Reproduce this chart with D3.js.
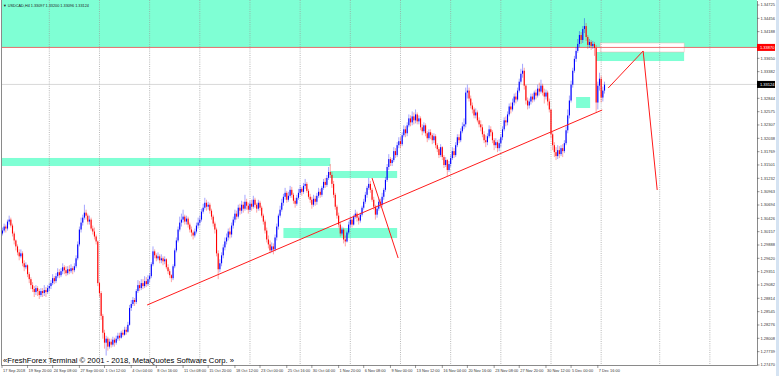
<!DOCTYPE html>
<html>
<head>
<meta charset="utf-8">
<style>
  body { margin: 0; background: #fff; }
  svg { display: block; font-family: "Liberation Sans", Arial, sans-serif; }
</style>
</head>
<body>
<script src="https://d3js.org/d3.v7.min.js"></script>
<script>
// USDCAD H4, 17 Sep 2018 .. 10 Dec 2018
var title = "\u25BC USDCAD,H4  1.33097 1.33200 1.33096 1.33124";
var firstOpen = 1.3024;

var closes = [
  1.3020, 1.3012, 1.3018, 1.3026, 1.3022, 1.3036, 1.3040, 1.3028, 1.3012, 1.2998,
  1.2986, 1.2974, 1.2966, 1.2972, 1.2952, 1.2944, 1.2948, 1.2930, 1.2920, 1.2908,
  1.2900, 1.2894, 1.2902, 1.2896, 1.2888, 1.2896, 1.2892, 1.2898, 1.2894, 1.2902,
  1.2906, 1.2912, 1.2922, 1.2916, 1.2926, 1.2934, 1.2928, 1.2936, 1.2944, 1.2938,
  1.2932, 1.2940, 1.2936, 1.2942, 1.2938, 1.2946, 1.2962, 1.2990, 1.3020, 1.3034,
  1.3044, 1.3054, 1.3048, 1.3036, 1.3040, 1.3022, 1.3016, 1.3006, 1.2996, 1.2912,
  1.2892, 1.2846, 1.2812, 1.2792, 1.2800, 1.2784, 1.2794, 1.2788, 1.2798, 1.2792,
  1.2800, 1.2806, 1.2802, 1.2812, 1.2808, 1.2818, 1.2814, 1.2828, 1.2862, 1.2870,
  1.2878, 1.2874, 1.2896, 1.2908, 1.2902, 1.2912, 1.2906, 1.2916, 1.2910, 1.2920,
  1.2926, 1.2950, 1.2976, 1.2968, 1.2962, 1.2966, 1.2958, 1.2962, 1.2956, 1.2960,
  1.2944, 1.2936, 1.2928, 1.2922, 1.2946, 1.2978, 1.2998, 1.3020, 1.3034, 1.3040,
  1.3046, 1.3036, 1.3042, 1.3030, 1.3020, 1.3014, 1.3008, 1.3016, 1.3028, 1.3034,
  1.3040, 1.3056, 1.3064, 1.3074, 1.3066, 1.3070, 1.3058, 1.3046, 1.3032, 1.3020,
  1.2972, 1.2940, 1.2952, 1.2968, 1.2984, 1.2996, 1.3004, 1.3016, 1.3010, 1.3028,
  1.3040, 1.3052, 1.3046, 1.3064, 1.3058, 1.3070, 1.3062, 1.3076, 1.3068, 1.3060,
  1.3072, 1.3066, 1.3080, 1.3070, 1.3062, 1.3074, 1.3064, 1.3048, 1.3036, 1.3018,
  1.3000, 1.2990, 1.2978, 1.2986, 1.2980, 1.3004, 1.3026, 1.3048, 1.3060, 1.3074,
  1.3086, 1.3094, 1.3080, 1.3088, 1.3100, 1.3090, 1.3078, 1.3072, 1.3084, 1.3094,
  1.3102, 1.3096, 1.3108, 1.3112, 1.3098, 1.3086, 1.3080, 1.3070, 1.3082, 1.3076,
  1.3088, 1.3096, 1.3090, 1.3104, 1.3116, 1.3110, 1.3124, 1.3136, 1.3130, 1.3112,
  1.3090, 1.3066, 1.3048, 1.3030, 1.3012, 1.3020, 1.3000, 1.2996, 1.3014, 1.3030,
  1.3040, 1.3030, 1.3046, 1.3052, 1.3044, 1.3038, 1.3050, 1.3064, 1.3076, 1.3090,
  1.3104, 1.3112, 1.3100, 1.3080, 1.3066, 1.3050, 1.3062, 1.3076, 1.3070, 1.3086,
  1.3100, 1.3120, 1.3146, 1.3162, 1.3154, 1.3160, 1.3178, 1.3170, 1.3190, 1.3198,
  1.3192, 1.3210, 1.3222, 1.3214, 1.3230, 1.3244, 1.3236, 1.3248, 1.3240, 1.3252,
  1.3238, 1.3244, 1.3226, 1.3218, 1.3230, 1.3214, 1.3204, 1.3216, 1.3210, 1.3200,
  1.3208, 1.3190, 1.3182, 1.3170, 1.3186, 1.3166, 1.3150, 1.3160, 1.3140, 1.3152,
  1.3164, 1.3178, 1.3170, 1.3190, 1.3206, 1.3200, 1.3218, 1.3228, 1.3232, 1.3296,
  1.3300, 1.3284, 1.3270, 1.3262, 1.3250, 1.3256, 1.3240, 1.3232, 1.3226, 1.3212,
  1.3200, 1.3196, 1.3208, 1.3222, 1.3216, 1.3200, 1.3190, 1.3196, 1.3184, 1.3194,
  1.3206, 1.3222, 1.3240, 1.3236, 1.3252, 1.3268, 1.3262, 1.3276, 1.3288, 1.3282,
  1.3300, 1.3318, 1.3334, 1.3340, 1.3310, 1.3280, 1.3270, 1.3278, 1.3288, 1.3282,
  1.3296, 1.3290, 1.3304, 1.3298, 1.3310, 1.3296, 1.3288, 1.3296, 1.3278, 1.3262,
  1.3212, 1.3190, 1.3176, 1.3168, 1.3180, 1.3172, 1.3184, 1.3178, 1.3194, 1.3220,
  1.3250, 1.3280, 1.3312, 1.3340, 1.3364, 1.3380, 1.3394, 1.3412, 1.3402, 1.3424,
  1.3430, 1.3408, 1.3392, 1.3398, 1.3390, 1.3394, 1.3386, 1.3276, 1.3310, 1.3324,
  1.3286, 1.3300, 1.3312
];

var highs = [
  1.3030, 1.3026, 1.3024, 1.3032, 1.3030, 1.3040, 1.3048, 1.3044, 1.3032, 1.3016,
  1.3000, 1.2990, 1.2980, 1.2980, 1.2976, 1.2958, 1.2954, 1.2950, 1.2934, 1.2924,
  1.2914, 1.2906, 1.2908, 1.2906, 1.2900, 1.2902, 1.2902, 1.2908, 1.2904, 1.2908,
  1.2912, 1.2918, 1.2930, 1.2926, 1.2932, 1.2942, 1.2940, 1.2942, 1.2952, 1.2948,
  1.2946, 1.2946, 1.2948, 1.2950, 1.2946, 1.2952, 1.2968, 1.2996, 1.3026, 1.3044,
  1.3050, 1.3070, 1.3060, 1.3052, 1.3048, 1.3044, 1.3028, 1.3024, 1.3010, 1.2998,
  1.2914, 1.2896, 1.2850, 1.2818, 1.2806, 1.2804, 1.2800, 1.2800, 1.2804, 1.2802,
  1.2806, 1.2812, 1.2812, 1.2816, 1.2818, 1.2824, 1.2824, 1.2834, 1.2868, 1.2878,
  1.2884, 1.2882, 1.2900, 1.2918, 1.2916, 1.2920, 1.2920, 1.2926, 1.2924, 1.2928,
  1.2932, 1.2954, 1.2986, 1.2980, 1.2972, 1.2974, 1.2970, 1.2970, 1.2966, 1.2966,
  1.2962, 1.2950, 1.2940, 1.2930, 1.2950, 1.2982, 1.3004, 1.3026, 1.3046, 1.3052,
  1.3060, 1.3050, 1.3048, 1.3046, 1.3034, 1.3026, 1.3018, 1.3022, 1.3034, 1.3044,
  1.3048, 1.3062, 1.3072, 1.3084, 1.3080, 1.3076, 1.3074, 1.3062, 1.3050, 1.3036,
  1.3024, 1.2978, 1.2960, 1.2974, 1.2990, 1.3004, 1.3012, 1.3022, 1.3024, 1.3034,
  1.3046, 1.3060, 1.3058, 1.3070, 1.3072, 1.3078, 1.3076, 1.3090, 1.3082, 1.3074,
  1.3078, 1.3080, 1.3088, 1.3084, 1.3074, 1.3080, 1.3078, 1.3068, 1.3052, 1.3040,
  1.3024, 1.3008, 1.2998, 1.2994, 1.2992, 1.3010, 1.3032, 1.3052, 1.3068, 1.3082,
  1.3092, 1.3104, 1.3098, 1.3096, 1.3108, 1.3106, 1.3094, 1.3084, 1.3090, 1.3102,
  1.3110, 1.3106, 1.3114, 1.3122, 1.3116, 1.3102, 1.3092, 1.3086, 1.3090, 1.3088,
  1.3094, 1.3104, 1.3102, 1.3108, 1.3122, 1.3124, 1.3130, 1.3146, 1.3152, 1.3136,
  1.3118, 1.3094, 1.3070, 1.3054, 1.3036, 1.3026, 1.3024, 1.3008, 1.3018, 1.3036,
  1.3046, 1.3044, 1.3050, 1.3060, 1.3056, 1.3048, 1.3054, 1.3068, 1.3082, 1.3096,
  1.3108, 1.3124, 1.3118, 1.3104, 1.3086, 1.3070, 1.3068, 1.3082, 1.3082, 1.3094,
  1.3104, 1.3126, 1.3152, 1.3172, 1.3166, 1.3164, 1.3186, 1.3184, 1.3196, 1.3206,
  1.3206, 1.3216, 1.3230, 1.3228, 1.3236, 1.3252, 1.3250, 1.3258, 1.3256, 1.3262,
  1.3256, 1.3250, 1.3248, 1.3232, 1.3236, 1.3234, 1.3218, 1.3222, 1.3222, 1.3214,
  1.3214, 1.3212, 1.3194, 1.3186, 1.3192, 1.3188, 1.3170, 1.3166, 1.3162, 1.3158,
  1.3170, 1.3186, 1.3184, 1.3196, 1.3212, 1.3212, 1.3224, 1.3236, 1.3244, 1.3306,
  1.3312, 1.3306, 1.3290, 1.3276, 1.3266, 1.3264, 1.3260, 1.3246, 1.3240, 1.3232,
  1.3218, 1.3210, 1.3214, 1.3230, 1.3228, 1.3220, 1.3204, 1.3204, 1.3200, 1.3202,
  1.3212, 1.3228, 1.3246, 1.3248, 1.3258, 1.3274, 1.3276, 1.3284, 1.3294, 1.3296,
  1.3306, 1.3324, 1.3344, 1.3354, 1.3346, 1.3312, 1.3286, 1.3284, 1.3294, 1.3294,
  1.3300, 1.3302, 1.3312, 1.3316, 1.3322, 1.3314, 1.3304, 1.3302, 1.3300, 1.3284,
  1.3240, 1.3216, 1.3196, 1.3186, 1.3190, 1.3188, 1.3190, 1.3192, 1.3200, 1.3228,
  1.3262, 1.3290, 1.3320, 1.3346, 1.3370, 1.3388, 1.3404, 1.3420, 1.3418, 1.3430,
  1.3446, 1.3436, 1.3412, 1.3404, 1.3402, 1.3400, 1.3398, 1.3392, 1.3318, 1.3336,
  1.3330, 1.3308, 1.3318
];

var lows = [
  1.3012, 1.3004, 1.3008, 1.3014, 1.3014, 1.3018, 1.3030, 1.3024, 1.3006, 1.2990,
  1.2978, 1.2968, 1.2958, 1.2962, 1.2946, 1.2936, 1.2940, 1.2924, 1.2912, 1.2900,
  1.2894, 1.2884, 1.2888, 1.2886, 1.2880, 1.2884, 1.2884, 1.2886, 1.2884, 1.2890,
  1.2896, 1.2900, 1.2908, 1.2910, 1.2912, 1.2922, 1.2922, 1.2924, 1.2930, 1.2930,
  1.2926, 1.2928, 1.2930, 1.2932, 1.2930, 1.2934, 1.2942, 1.2958, 1.2986, 1.3014,
  1.3028, 1.3040, 1.3040, 1.3030, 1.3030, 1.3018, 1.3010, 1.3000, 1.2990, 1.2906,
  1.2884, 1.2838, 1.2800, 1.2780, 1.2766, 1.2776, 1.2780, 1.2782, 1.2784, 1.2784,
  1.2788, 1.2796, 1.2796, 1.2800, 1.2804, 1.2806, 1.2808, 1.2812, 1.2826, 1.2856,
  1.2866, 1.2866, 1.2870, 1.2892, 1.2896, 1.2898, 1.2900, 1.2902, 1.2904, 1.2906,
  1.2914, 1.2922, 1.2946, 1.2962, 1.2956, 1.2958, 1.2952, 1.2952, 1.2948, 1.2950,
  1.2940, 1.2930, 1.2922, 1.2914, 1.2918, 1.2942, 1.2974, 1.2994, 1.3016, 1.3026,
  1.3034, 1.3030, 1.3030, 1.3024, 1.3014, 1.3006, 1.3000, 1.3004, 1.3012, 1.3022,
  1.3028, 1.3036, 1.3052, 1.3060, 1.3058, 1.3060, 1.3052, 1.3040, 1.3026, 1.3012,
  1.2966, 1.2920, 1.2934, 1.2946, 1.2962, 1.2978, 1.2990, 1.2998, 1.3002, 1.3004,
  1.3022, 1.3034, 1.3040, 1.3042, 1.3050, 1.3052, 1.3054, 1.3058, 1.3060, 1.3052,
  1.3056, 1.3058, 1.3062, 1.3064, 1.3054, 1.3058, 1.3058, 1.3044, 1.3030, 1.3012,
  1.2994, 1.2982, 1.2972, 1.2974, 1.2970, 1.2976, 1.2998, 1.3020, 1.3044, 1.3056,
  1.3068, 1.3080, 1.3074, 1.3076, 1.3084, 1.3084, 1.3072, 1.3064, 1.3068, 1.3080,
  1.3090, 1.3088, 1.3092, 1.3102, 1.3094, 1.3082, 1.3074, 1.3062, 1.3066, 1.3068,
  1.3070, 1.3084, 1.3084, 1.3086, 1.3100, 1.3104, 1.3106, 1.3120, 1.3124, 1.3104,
  1.3084, 1.3060, 1.3042, 1.3024, 1.3006, 1.3008, 1.2992, 1.2986, 1.2994, 1.3010,
  1.3024, 1.3024, 1.3028, 1.3042, 1.3036, 1.3030, 1.3034, 1.3046, 1.3060, 1.3072,
  1.3084, 1.3100, 1.3094, 1.3076, 1.3060, 1.3040, 1.3044, 1.3058, 1.3064, 1.3066,
  1.3080, 1.3096, 1.3116, 1.3140, 1.3148, 1.3148, 1.3156, 1.3164, 1.3166, 1.3184,
  1.3184, 1.3188, 1.3206, 1.3206, 1.3208, 1.3226, 1.3228, 1.3230, 1.3232, 1.3234,
  1.3232, 1.3232, 1.3220, 1.3210, 1.3214, 1.3208, 1.3196, 1.3200, 1.3202, 1.3192,
  1.3194, 1.3184, 1.3176, 1.3164, 1.3166, 1.3160, 1.3144, 1.3146, 1.3128, 1.3136,
  1.3146, 1.3160, 1.3164, 1.3166, 1.3186, 1.3194, 1.3196, 1.3214, 1.3222, 1.3226,
  1.3284, 1.3278, 1.3264, 1.3254, 1.3244, 1.3244, 1.3236, 1.3226, 1.3218, 1.3206,
  1.3194, 1.3186, 1.3190, 1.3204, 1.3208, 1.3194, 1.3180, 1.3184, 1.3176, 1.3178,
  1.3186, 1.3200, 1.3218, 1.3228, 1.3230, 1.3248, 1.3254, 1.3258, 1.3270, 1.3274,
  1.3278, 1.3296, 1.3314, 1.3326, 1.3302, 1.3272, 1.3262, 1.3264, 1.3272, 1.3276,
  1.3278, 1.3282, 1.3286, 1.3290, 1.3294, 1.3290, 1.3274, 1.3282, 1.3270, 1.3256,
  1.3204, 1.3180, 1.3166, 1.3160, 1.3162, 1.3164, 1.3168, 1.3166, 1.3174, 1.3190,
  1.3214, 1.3244, 1.3276, 1.3306, 1.3336, 1.3358, 1.3376, 1.3388, 1.3394, 1.3396,
  1.3416, 1.3400, 1.3384, 1.3386, 1.3382, 1.3384, 1.3370, 1.3256, 1.3262, 1.3300,
  1.3276, 1.3278, 1.3294
];

// time axis labels and the bar each one sits on
var dateLabels = ["17 Sep 2018", "19 Sep 20:00", "24 Sep 08:00", "27 Sep 00:00", "1 Oct 12:00",
  "4 Oct 04:00", "8 Oct 16:00", "11 Oct 08:00", "15 Oct 20:00", "18 Oct 12:00", "23 Oct 00:00",
  "25 Oct 16:00", "30 Oct 04:00", "1 Nov 20:00", "6 Nov 08:00", "9 Nov 00:00", "13 Nov 12:00",
  "16 Nov 04:00", "20 Nov 16:00", "23 Nov 08:00", "27 Nov 20:00", "30 Nov 12:00", "5 Dec 00:00",
  "7 Dec 16:00"];
var dateBars = [0, 17, 32, 48, 63, 79, 94, 110, 125, 141, 156, 172, 187, 203, 218, 234, 249,
  265, 280, 296, 311, 327, 342, 358];

// price scale labels, top to bottom
var priceTicks = [1.34725, 1.34456, 1.34188, 1.33919, 1.33650, 1.33382, 1.33113, 1.32844,
  1.32575, 1.32307, 1.32038, 1.31769, 1.31501, 1.31232, 1.30963, 1.30694, 1.30426, 1.30157,
  1.29888, 1.29620, 1.29351, 1.29082, 1.28814, 1.28545, 1.28276, 1.28008, 1.27739, 1.27470];

var gridBars = [30, 60, 90, 120, 150, 180, 210, 240, 270, 300, 330, 360, 395, 425];

var levelPrice = 1.33870;   // red horizontal line
var lastPrice = 1.33124;    // current bid

// rectangles drawn on the chart: [fromBar, toBar, upperPrice, lowerPrice]
var zones = [
  [-5, 460, 1.35000, 1.33870],
  [-5, 198, 1.31642, 1.31480],
  [198, 238, 1.31380, 1.31238],
  [170, 238, 1.30231, 1.30029],
  [345, 353.4, 1.32871, 1.32649],
  [357, 409.6, 1.33778, 1.33596]
];
var whiteBoxes = [
  [359.4, 409.6, 1.33959, 1.33778]
];

// trend lines: [bar1, price1, bar2, price2]
var trendLines = [
  [88.5, 1.28679, 360.6, 1.32609],
  [223, 1.31238, 238.6, 1.29626],
  [364.2, 1.33052, 385.1, 1.33798],
  [385.1, 1.33798, 393.5, 1.30997]
];

var W = 779, H = 376;
var plot = {left: 2, right: 757, top: 0, bottom: 365};

var svg = d3.select("body").append("svg")
    .attr("width", W)
    .attr("height", H);

svg.append("rect").attr("width", W).attr("height", H).attr("fill", "#fff");
// window frame strip on the right
svg.append("rect").attr("x", 776).attr("y", 0).attr("width", 3).attr("height", H).attr("fill", "#d5e3f2");

var x = d3.scaleLinear().domain([30, 330]).range([49.3, 551]);
var y = d3.scaleLinear()
    .domain([priceTicks[priceTicks.length - 1], priceTicks[0]])
    .range([365, 5]);

svg.append("clipPath").attr("id", "clip")
  .append("rect")
    .attr("x", plot.left).attr("y", plot.top)
    .attr("width", plot.right - plot.left).attr("height", plot.bottom - plot.top);

var chart = svg.append("g").attr("clip-path", "url(#clip)");

// zones
chart.selectAll("rect.zone")
    .data(zones)
  .enter().append("rect")
    .attr("class", "zone")
    .attr("x", function(d) { return x(d[0]); })
    .attr("y", function(d) { return y(d[2]); })
    .attr("width", function(d) { return x(d[1]) - x(d[0]); })
    .attr("height", function(d) { return y(d[3]) - y(d[2]); })
    .attr("fill", "#7fffd4");

chart.selectAll("rect.wbox")
    .data(whiteBoxes)
  .enter().append("rect")
    .attr("class", "wbox")
    .attr("x", function(d) { return x(d[0]); })
    .attr("y", function(d) { return y(d[2]); })
    .attr("width", function(d) { return x(d[1]) - x(d[0]); })
    .attr("height", function(d) { return y(d[3]) - y(d[2]); })
    .attr("fill", "#fff")
    .attr("stroke", "#f2b0b0")
    .attr("stroke-width", 0.5);

// vertical grid (dotted)
chart.selectAll("line.grid")
    .data(gridBars)
  .enter().append("line")
    .attr("class", "grid")
    .attr("x1", function(d) { return x(d); })
    .attr("x2", function(d) { return x(d); })
    .attr("y1", plot.top)
    .attr("y2", plot.bottom)
    .attr("stroke", "#9a9a9a")
    .attr("stroke-width", 0.7)
    .attr("stroke-dasharray", "1,1.2");

// current price line and red level
chart.append("line")
    .attr("x1", plot.left).attr("x2", plot.right)
    .attr("y1", y(lastPrice)).attr("y2", y(lastPrice))
    .attr("stroke", "#c8c8c8").attr("stroke-width", 0.7);

chart.append("line")
    .attr("x1", plot.left).attr("x2", plot.right)
    .attr("y1", y(levelPrice)).attr("y2", y(levelPrice))
    .attr("stroke", "#ee4a4a").attr("stroke-width", 0.8);

// candles
var bars = closes.map(function(c, i) {
  var o = i === 0 ? firstOpen : closes[i - 1];
  return {i: i, o: o, c: c, h: Math.max(highs[i], o, c), l: Math.min(lows[i], o, c)};
});
function col(d) { return d.c >= d.o ? "#0000ff" : "#ff0000"; }

chart.selectAll("line.wick")
    .data(bars)
  .enter().append("line")
    .attr("class", "wick")
    .attr("x1", function(d) { return x(d.i); })
    .attr("x2", function(d) { return x(d.i); })
    .attr("y1", function(d) { return y(d.h); })
    .attr("y2", function(d) { return y(d.l); })
    .attr("stroke", col)
    .attr("stroke-opacity", 0.45)
    .attr("stroke-width", 0.8);

chart.selectAll("rect.body")
    .data(bars)
  .enter().append("rect")
    .attr("class", "body")
    .attr("x", function(d) { return x(d.i) - 0.55; })
    .attr("y", function(d) { return y(Math.max(d.o, d.c)); })
    .attr("width", 1.1)
    .attr("height", function(d) { return Math.max(0.6, Math.abs(y(d.o) - y(d.c))); })
    .attr("fill", col);

// trend lines
chart.selectAll("line.trend")
    .data(trendLines)
  .enter().append("line")
    .attr("class", "trend")
    .attr("x1", function(d) { return x(d[0]); })
    .attr("y1", function(d) { return y(d[1]); })
    .attr("x2", function(d) { return x(d[2]); })
    .attr("y2", function(d) { return y(d[3]); })
    .attr("stroke", "#ff1a1a")
    .attr("stroke-width", 1);

// frame
svg.append("path")
    .attr("d", "M1.5,0V" + (plot.bottom + 0.5) + "H" + (plot.right + 0.5) + "V1")
    .attr("fill", "none")
    .attr("stroke", "#8a8a8a")
    .attr("stroke-width", 1);

// price axis
var yAxis = svg.append("g").attr("class", "axis");
var shownTicks = priceTicks.filter(function(p) {
  return Math.abs(y(p) - y(levelPrice)) > 4 && Math.abs(y(p) - y(lastPrice)) > 4;
});
yAxis.selectAll("line")
    .data(shownTicks)
  .enter().append("line")
    .attr("x1", plot.right).attr("x2", plot.right + 2.5)
    .attr("y1", function(d) { return y(d); })
    .attr("y2", function(d) { return y(d); })
    .attr("stroke", "#555").attr("stroke-width", 0.6);
yAxis.selectAll("text")
    .data(shownTicks)
  .enter().append("text")
    .attr("x", plot.right + 3.5)
    .attr("y", function(d) { return y(d) + 1.4; })
    .attr("font-size", 4)
    .attr("fill", "#333")
    .text(function(d) { return d.toFixed(5); });

function priceTag(p, bg) {
  svg.append("rect")
      .attr("x", plot.right).attr("y", y(p) - 3.5)
      .attr("width", 18).attr("height", 7)
      .attr("fill", bg);
  svg.append("text")
      .attr("x", plot.right + 3)
      .attr("y", y(p) + 1.4)
      .attr("font-size", 4)
      .attr("fill", "#fff")
      .text(p.toFixed(5));
}
priceTag(levelPrice, "#ff0000");
priceTag(lastPrice, "#000");

// time axis
var xAxis = svg.append("g").attr("class", "axis");
xAxis.selectAll("line")
    .data(dateBars)
  .enter().append("line")
    .attr("x1", function(d) { return Math.max(plot.left, x(d)); })
    .attr("x2", function(d) { return Math.max(plot.left, x(d)); })
    .attr("y1", plot.bottom).attr("y2", plot.bottom + 3)
    .attr("stroke", "#555").attr("stroke-width", 0.6);
xAxis.selectAll("text")
    .data(dateBars)
  .enter().append("text")
    .attr("x", function(d) { return Math.max(plot.left, x(d)) + 1; })
    .attr("y", plot.bottom + 6.5)
    .attr("font-size", 3.9)
    .attr("fill", "#333")
    .text(function(d, i) { return dateLabels[i]; });

// header and copyright
svg.append("text")
    .attr("x", 3).attr("y", 6.5)
    .attr("font-size", 3.8)
    .attr("fill", "#222")
    .text(title);

svg.append("text")
    .attr("x", 3).attr("y", 363)
    .attr("font-size", 8)
    .attr("textLength", 231)
    .attr("lengthAdjust", "spacingAndGlyphs")
    .attr("fill", "#000")
    .text("\u00ABFreshForex Terminal \u00A9 2001 - 2018, MetaQuotes Software Corp. \u00BB");
</script>
</body>
</html>
